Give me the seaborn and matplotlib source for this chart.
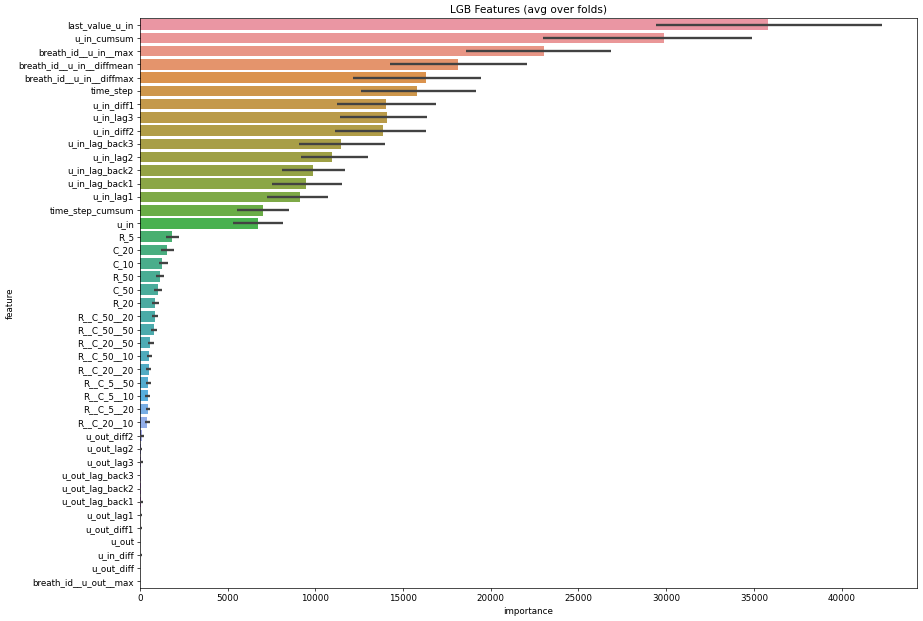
import matplotlib
matplotlib.use("Agg")
import matplotlib.pyplot as plt
import seaborn as sns
import pandas as pd

features = [
    "last_value_u_in", "u_in_cumsum", "breath_id__u_in__max", "breath_id__u_in__diffmean",
    "breath_id__u_in__diffmax", "time_step", "u_in_diff1", "u_in_lag3", "u_in_diff2",
    "u_in_lag_back3", "u_in_lag2", "u_in_lag_back2", "u_in_lag_back1", "u_in_lag1",
    "time_step_cumsum", "u_in", "R_5", "C_20", "C_10", "R_50", "C_50", "R_20",
    "R__C_50__20", "R__C_50__50", "R__C_20__50", "R__C_50__10", "R__C_20__20",
    "R__C_5__50", "R__C_5__10", "R__C_5__20", "R__C_20__10", "u_out_diff2",
    "u_out_lag2", "u_out_lag3", "u_out_lag_back3", "u_out_lag_back2", "u_out_lag_back1",
    "u_out_lag1", "u_out_diff1", "u_out", "u_in_diff", "u_out_diff", "breath_id__u_out__max",
]
importance = [
    35800, 29900, 23050, 18140, 16300, 15800, 14030, 14090, 13860,
    11470, 10950, 9870, 9470, 9130, 7020, 6730, 1830, 1540, 1255, 1140, 1030, 855,
    855, 800, 570, 510, 510, 460, 460, 440, 400, 100,
    80, 60, 40, 40, 50, 20, 20, 5, 20, 5, 0,
]
ci_low = [
    29400, 22990, 18600, 14260, 12150, 12600, 11240, 11410, 11120,
    9070, 9180, 8100, 7530, 7250, 5530, 5300, 1480, 1200, 1080, 910, 800, 680,
    680, 630, 460, 400, 340, 340, 290, 340, 290, 0,
    0, 0, 0, 0, 0, 0, 0, 0, 0, 0, 0,
]
ci_high = [
    42300, 34910, 26870, 22080, 19450, 19170, 16890, 16370, 16310,
    13980, 13010, 11690, 11520, 10720, 8500, 8160, 2220, 1940, 1600, 1370, 1260, 1080,
    1030, 970, 800, 680, 620, 620, 570, 570, 570, 230,
    120, 180, 60, 60, 170, 120, 120, 10, 120, 10, 0,
]

df = pd.DataFrame({"feature": features, "importance": importance})

s = 0.87
fig = plt.figure(figsize=(923 / 72, 621 / 72), dpi=72)
ax = fig.add_axes([140 / 923, 1 - 588 / 621, (917 - 140) / 923, (588 - 18) / 621])

pal = sns.husl_palette(len(features), l=.7)
sns.barplot(data=df, x="importance", y="feature", hue="feature", palette=pal,
            saturation=.75, errorbar=None, legend=False, ax=ax, order=features,
            linewidth=0)
ax.hlines(y=list(range(len(features))), xmin=ci_low, xmax=ci_high,
          color=".26", linewidth=2.7 * s, zorder=3)

ax.set_xlim(0, 44300)
ax.set_ylim(len(features) - 0.5, -0.5)
ax.set_title("LGB Features (avg over folds)", fontsize=12 * s, pad=6 * s)
ax.set_xlabel("importance", fontsize=10 * s, labelpad=4 * s)
ax.set_ylabel("feature", fontsize=10 * s, labelpad=4 * s)
ax.tick_params(labelsize=10 * s, length=3.5 * s, width=0.8 * s, pad=3.5 * s)
for sp in ax.spines.values():
    sp.set_linewidth(0.8 * s)

fig.savefig("out.png", dpi=72)
